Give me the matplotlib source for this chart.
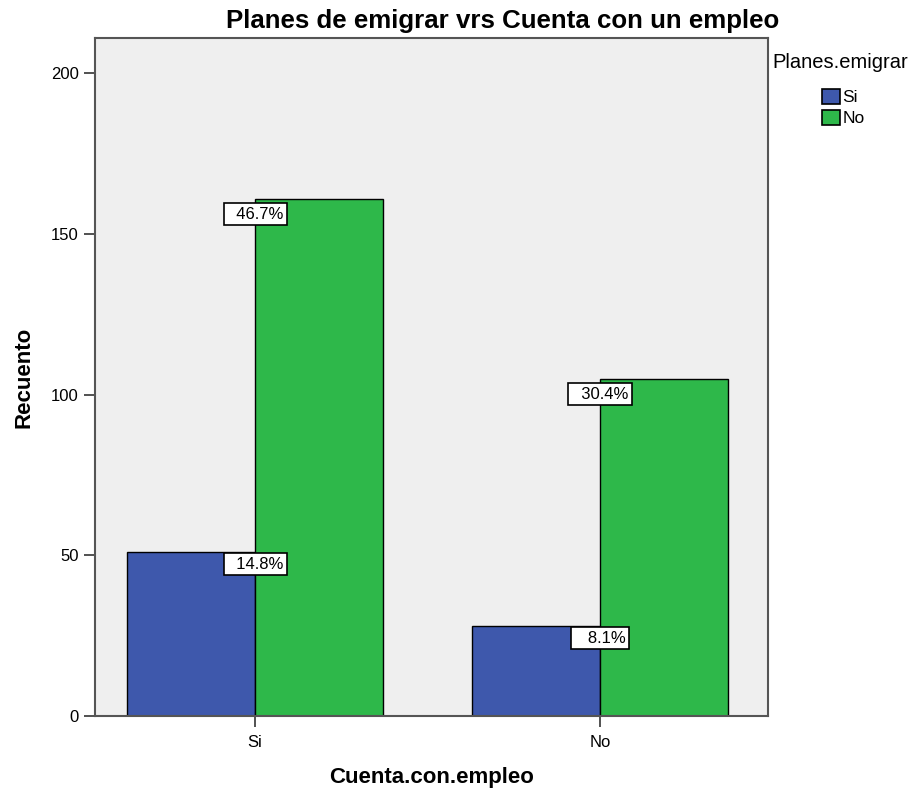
import matplotlib
matplotlib.use("Agg")
import matplotlib.pyplot as plt
import numpy as np
from matplotlib.patches import Patch

plt.rcParams['font.family'] = ['Liberation Sans', 'DejaVu Sans']

categories = ["Si", "No"]
series_names = ["Si", "No"]
counts_si = [51, 28]     # Planes.emigrar = Si
counts_no = [161, 105]   # Planes.emigrar = No
pct_si = ["14.8%", "8.1%"]
pct_no = ["46.7%", "30.4%"]
colors = ["#3E58AC", "#2EB84A"]

fig = plt.figure(figsize=(9.22, 7.91), dpi=100)
ax = fig.add_axes([0.103, 0.095, 0.730, 0.857])
ax.set_facecolor("#EFEFEF")

x = np.arange(len(categories))
w = 0.371
ax.bar(x - w / 2, counts_si, width=w, color=colors[0], edgecolor="black", linewidth=1)
ax.bar(x + w / 2, counts_no, width=w, color=colors[1], edgecolor="black", linewidth=1)

bbox = dict(boxstyle="square,pad=0.2", facecolor="white", edgecolor="black", linewidth=1.2)
for xi, v, p in zip(x, counts_si, pct_si):
    ax.text(xi, v - 1.5, p.rjust(7), ha="center", va="top", fontsize=12, bbox=bbox, zorder=5)
for xi, v, p in zip(x, counts_no, pct_no):
    ax.text(xi, v - 2.5, p.rjust(7), ha="center", va="top", fontsize=12, bbox=bbox, zorder=5)

ax.set_xlim(-0.464, 1.487)
ax.set_ylim(0, 211)
ax.set_yticks([0, 50, 100, 150, 200])
ax.set_xticks(x)
ax.set_xticklabels(categories)
ax.tick_params(axis="both", direction="out", length=8, width=1.2, labelsize=12, color="#333333")
ax.tick_params(axis="x", pad=6)

for s in ax.spines.values():
    s.set_color("#555555")
    s.set_linewidth(1.5)

fig.text(0.545, 0.973, "Planes de emigrar vrs Cuenta con un empleo", fontsize=18.6,
         fontweight="bold", ha="center", va="center")
ax.set_xlabel("Cuenta.con.empleo", fontsize=16, fontweight="bold", labelpad=12)
ax.set_ylabel("Recuento", fontsize=16, fontweight="bold", labelpad=12)

fig.text(0.838, 0.921, "Planes.emigrar", fontsize=14.5, ha="left", va="center")
handles = [Patch(facecolor=colors[0], edgecolor="black", linewidth=1.2),
           Patch(facecolor=colors[1], edgecolor="black", linewidth=1.2)]
leg = fig.legend(handles, series_names, loc="upper left",
                 bbox_to_anchor=(0.892, 0.888), frameon=False, fontsize=12.5,
                 handlelength=1.0, handleheight=1.0, handletextpad=0.15, labelspacing=0.25,
                 borderpad=0, borderaxespad=0)

fig.savefig("out.png", dpi=100)
